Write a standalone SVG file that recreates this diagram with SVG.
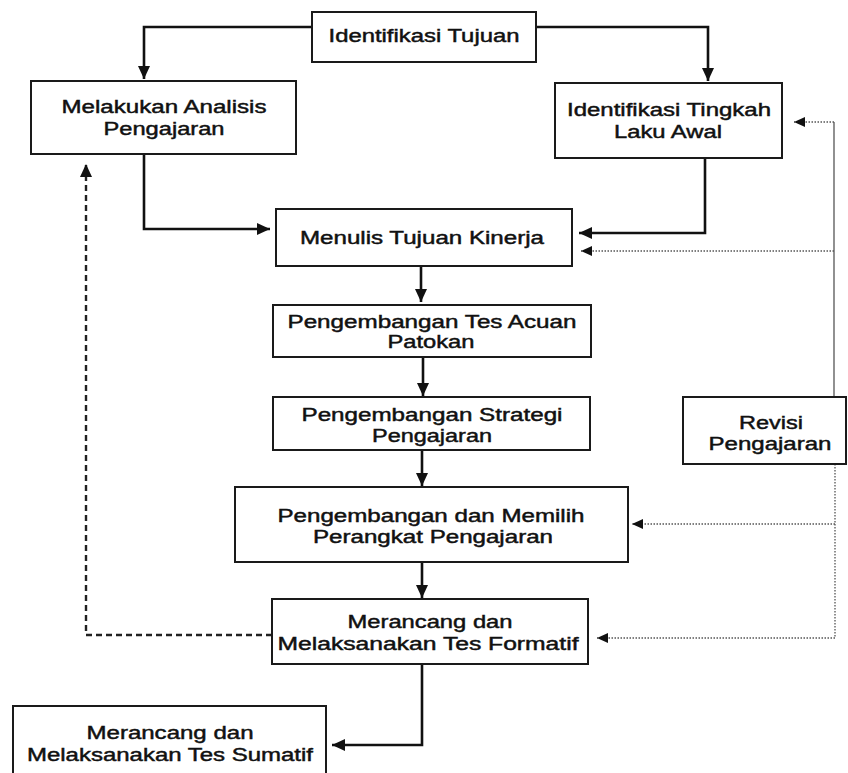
<svg xmlns="http://www.w3.org/2000/svg" width="848" height="773" viewBox="0 0 848 773">
<style>
  .box{fill:#fff;stroke:#1a1a1a;stroke-width:2}
  .t{font-family:"Liberation Sans",Arial,sans-serif;font-size:18px;fill:#111;text-anchor:middle;stroke:#111;stroke-width:0.45}
  .solid{fill:none;stroke:#111;stroke-width:2.6}
  .dash{fill:none;stroke:#222;stroke-width:2.4;stroke-dasharray:6 4}
  .dot{fill:none;stroke:#555;stroke-width:1.3;stroke-dasharray:1.5 1.5}
  .thin{fill:none;stroke:#555;stroke-width:1.3}
</style>
<defs>
  <marker id="ah" markerUnits="userSpaceOnUse" markerWidth="14" markerHeight="12" refX="13" refY="6" orient="auto">
    <path d="M0,0 L13,6 L0,12 z" fill="#111"/>
  </marker>
  <marker id="ahs" markerUnits="userSpaceOnUse" markerWidth="12" markerHeight="10" refX="11" refY="5" orient="auto">
    <path d="M0,0 L11,5 L0,10 z" fill="#111"/>
  </marker>
</defs>
<rect width="848" height="773" fill="#fff"/>

<g id="connectors">
  <path class="solid" d="M312,27 H144 V79" marker-end="url(#ah)"/>
  <path class="solid" d="M536,27 H708 V81" marker-end="url(#ah)"/>
  <path class="solid" d="M144,154 V229 H270" marker-end="url(#ah)"/>
  <path class="solid" d="M705,158 V233 H579" marker-end="url(#ah)"/>
  <path class="solid" d="M421,266 V302" marker-end="url(#ah)"/>
  <path class="solid" d="M423,357 V396" marker-end="url(#ah)"/>
  <path class="solid" d="M422,450 V486" marker-end="url(#ah)"/>
  <path class="solid" d="M422,562 V598" marker-end="url(#ah)"/>
  <path class="solid" d="M422,664 V745 H332" marker-end="url(#ah)"/>
  <path class="dash" d="M272,635 H86 V164" marker-end="url(#ah)"/>
  <path class="thin" d="M834,122 V397"/>
  <path class="dot" d="M834,122 H794" marker-end="url(#ahs)"/>
  <path class="dot" d="M834,251 H581" marker-end="url(#ahs)"/>
  <path class="dot" d="M835,464 V638"/>
  <path class="dot" d="M835,524 H632" marker-end="url(#ahs)"/>
  <path class="dot" d="M835,638 H597" marker-end="url(#ahs)"/>
</g>

<g id="identifikasi-tujuan">
  <rect class="box" x="312" y="12" width="224" height="50"/>
  <text class="t" x="424" y="42" textLength="191" lengthAdjust="spacingAndGlyphs">Identifikasi Tujuan</text>
</g>
<g id="melakukan-analisis">
  <rect class="box" x="31" y="81" width="265" height="73"/>
  <text class="t" x="164" y="113" textLength="205" lengthAdjust="spacingAndGlyphs">Melakukan Analisis</text>
  <text class="t" x="164" y="135" textLength="121" lengthAdjust="spacingAndGlyphs">Pengajaran</text>
</g>
<g id="identifikasi-tingkah">
  <rect class="box" x="555" y="83" width="227" height="75"/>
  <text class="t" x="669" y="116" textLength="204" lengthAdjust="spacingAndGlyphs">Identifikasi Tingkah</text>
  <text class="t" x="668" y="138" textLength="108" lengthAdjust="spacingAndGlyphs">Laku Awal</text>
</g>
<g id="menulis-tujuan">
  <rect class="box" x="276" y="209" width="296" height="57"/>
  <text class="t" x="422" y="244" textLength="244" lengthAdjust="spacingAndGlyphs">Menulis Tujuan Kinerja</text>
</g>
<g id="tes-acuan">
  <rect class="box" x="273" y="305" width="318" height="52"/>
  <text class="t" x="432" y="328" textLength="289" lengthAdjust="spacingAndGlyphs">Pengembangan Tes Acuan</text>
  <text class="t" x="431" y="348" textLength="87" lengthAdjust="spacingAndGlyphs">Patokan</text>
</g>
<g id="strategi">
  <rect class="box" x="273" y="397" width="317" height="53"/>
  <text class="t" x="432" y="421" textLength="261" lengthAdjust="spacingAndGlyphs">Pengembangan Strategi</text>
  <text class="t" x="432" y="442" textLength="120" lengthAdjust="spacingAndGlyphs">Pengajaran</text>
</g>
<g id="perangkat">
  <rect class="box" x="235" y="487" width="393" height="75"/>
  <text class="t" x="431" y="522" textLength="307" lengthAdjust="spacingAndGlyphs">Pengembangan dan Memilih</text>
  <text class="t" x="433" y="543" textLength="240" lengthAdjust="spacingAndGlyphs">Perangkat Pengajaran</text>
</g>
<g id="formatif">
  <rect class="box" x="272" y="599" width="316" height="65"/>
  <text class="t" x="430" y="628" textLength="165" lengthAdjust="spacingAndGlyphs">Merancang dan</text>
  <text class="t" x="428" y="650" textLength="301" lengthAdjust="spacingAndGlyphs">Melaksanakan Tes Formatif</text>
</g>
<g id="sumatif">
  <rect class="box" x="13" y="706" width="313" height="80"/>
  <text class="t" x="170" y="739" textLength="167" lengthAdjust="spacingAndGlyphs">Merancang dan</text>
  <text class="t" x="170" y="761" textLength="286" lengthAdjust="spacingAndGlyphs">Melaksanakan Tes Sumatif</text>
</g>
<g id="revisi">
  <rect class="box" x="683" y="397" width="163" height="67"/>
  <text class="t" x="771" y="429" textLength="64" lengthAdjust="spacingAndGlyphs">Revisi</text>
  <text class="t" x="770" y="450" textLength="123" lengthAdjust="spacingAndGlyphs">Pengajaran</text>
</g>
</svg>
